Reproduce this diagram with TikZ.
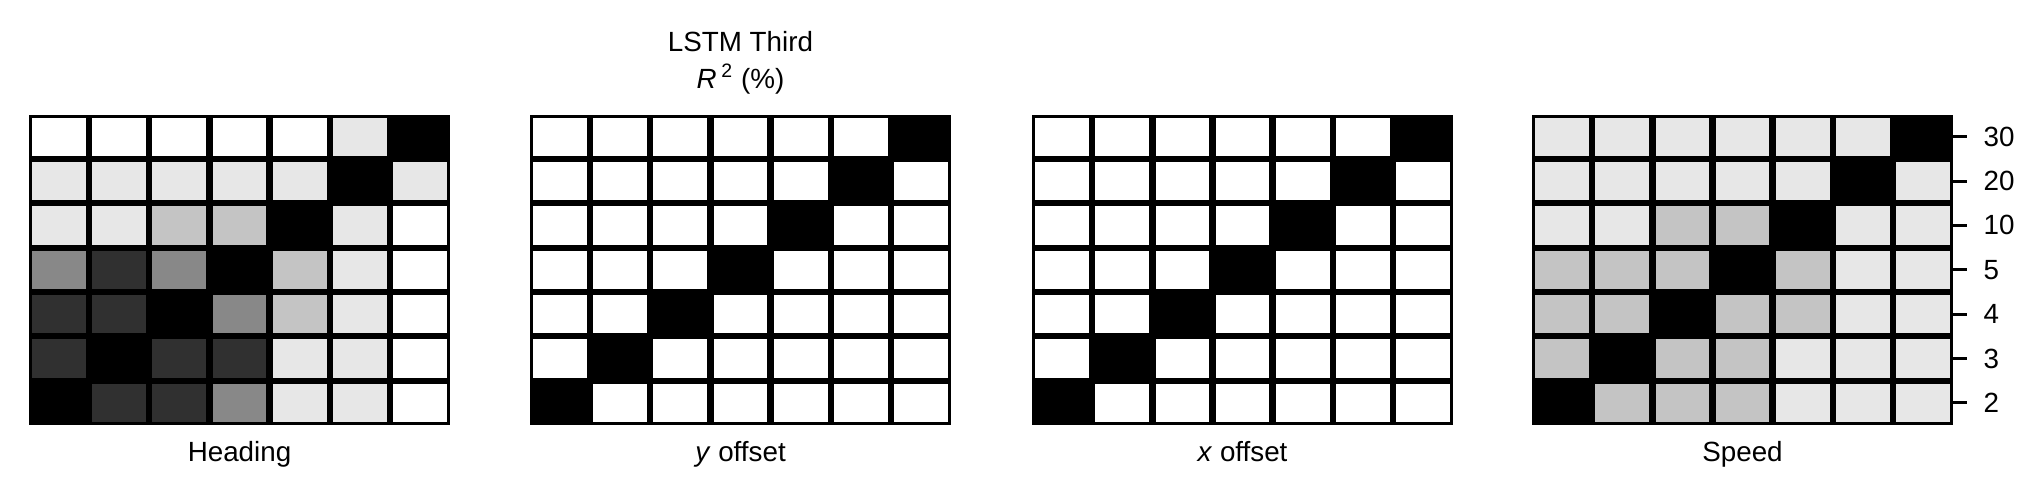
\documentclass[tikz,border=0pt]{standalone}
\usepackage{fontspec}
\setmainfont{Liberation Sans}
\definecolor{lev0}{gray}{1}
\definecolor{lev1}{gray}{0.906}
\definecolor{lev2}{gray}{0.77}
\definecolor{lev3}{gray}{0.533}
\definecolor{lev4}{gray}{0.188}
\definecolor{lev5}{gray}{0}
\tikzset{
  cellfill/.style={fill=lev#1},
  axlabel/.style={anchor=base,inner sep=0pt},
  ticklab/.style={anchor=west,inner sep=0pt}
}

\begin{document}
\begin{tikzpicture}[x=0.36pt,y=0.36pt,font=\fontsize{10}{12}\selectfont]
	\useasboundingbox (0,0) rectangle (2043,502);
	% Heading
	\begin{scope}[shift={(29,77)}]
		\fill[black] (0,0) rectangle (421,310.5);
		\foreach \row [count=\r] in {{0,0,0,0,0,1,5},{1,1,1,1,1,5,1},{1,1,2,2,5,1,0},{3,4,3,5,2,1,0},{4,4,5,3,2,1,0},{4,5,4,4,1,1,0},{5,4,4,3,1,1,0}}
			\foreach \v [count=\c] in \row
				\fill[cellfill=\v] ({(\c-1)*60.14+3.2},{310.5-\r*44.36+3}) rectangle ({\c*60.14-3.2},{310.5-(\r-1)*44.36-3});
		\node[axlabel] (headlab) at (210.5,-36.7) {Heading};
	\end{scope}
	% y offset
	\begin{scope}[shift={(530,77)}]
		\fill[black] (0,0) rectangle (421,310.5);
		\foreach \row [count=\r] in {{0,0,0,0,0,0,5},{0,0,0,0,0,5,0},{0,0,0,0,5,0,0},{0,0,0,5,0,0,0},{0,0,5,0,0,0,0},{0,5,0,0,0,0,0},{5,0,0,0,0,0,0}}
			\foreach \v [count=\c] in \row
				\fill[cellfill=\v] ({(\c-1)*60.14+3.2},{310.5-\r*44.36+3}) rectangle ({\c*60.14-3.2},{310.5-(\r-1)*44.36-3});
		\node[axlabel] (ylab) at (210.5,-36.7) {\textit{y} offset};
		\node[axlabel] (title) at (210.5,373.3) {LSTM Third};
		\node[axlabel] (rsq) at (210.5,337) {\textit{R}\,\textsuperscript{2} (\%)};
	\end{scope}
	% x offset
	\begin{scope}[shift={(1032,77)}]
		\fill[black] (0,0) rectangle (421,310.5);
		\foreach \row [count=\r] in {{0,0,0,0,0,0,5},{0,0,0,0,0,5,0},{0,0,0,0,5,0,0},{0,0,0,5,0,0,0},{0,0,5,0,0,0,0},{0,5,0,0,0,0,0},{5,0,0,0,0,0,0}}
			\foreach \v [count=\c] in \row
				\fill[cellfill=\v] ({(\c-1)*60.14+3.2},{310.5-\r*44.36+3}) rectangle ({\c*60.14-3.2},{310.5-(\r-1)*44.36-3});
		\node[axlabel] (xlab) at (210.5,-36.7) {\textit{x} offset};
	\end{scope}
	% Speed, with ticks on the right
	\begin{scope}[shift={(1532,77)}]
		\fill[black] (0,0) rectangle (421,310.5);
		\foreach \row [count=\r] in {{1,1,1,1,1,1,5},{1,1,1,1,1,5,1},{1,1,2,2,5,1,1},{2,2,2,5,2,1,1},{2,2,5,2,2,1,1},{2,5,2,2,1,1,1},{5,2,2,2,1,1,1}}
			\foreach \v [count=\c] in \row
				\fill[cellfill=\v] ({(\c-1)*60.14+3.2},{310.5-\r*44.36+3}) rectangle ({\c*60.14-3.2},{310.5-(\r-1)*44.36-3});
		\node[axlabel] (speedlab) at (210.5,-36.7) {Speed};
		\foreach \t [count=\r] in {30,20,10,5,4,3,2}{
			\coordinate (tk\r) at (421,{310.5-(\r-0.5)*44.36});
			\draw[line width=1.1pt] (tk\r) -- ++(14,0);
			\node[ticklab] (tl\r) at ([shift={(30,0)}]tk\r) {\t};
		}
	\end{scope}
\end{tikzpicture}
\end{document}
